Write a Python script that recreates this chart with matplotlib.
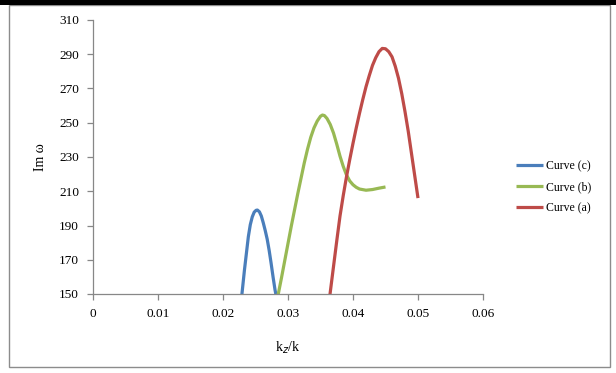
import matplotlib
matplotlib.use("Agg")
import matplotlib.pyplot as plt
from matplotlib.patches import Rectangle

plt.rcParams['font.family'] = ['Liberation Serif', 'DejaVu Serif']

# Curve (c)
x_c = [0.0229, 0.0233, 0.0235, 0.0239, 0.0242, 0.0245, 0.0248, 0.0251, 0.0253,
       0.0256, 0.0259, 0.0262, 0.0265, 0.0268, 0.0271, 0.0274, 0.0277, 0.0280, 0.0282]
y_c = [149.5, 164.0, 170.5, 183.5, 190.5, 195.0, 197.8, 198.9, 199.0,
       198.0, 195.5, 191.5, 187.0, 182.0, 175.5, 168.0, 160.0, 152.5, 148.5]

# Curve (b)
x_b = [0.0284, 0.0290, 0.0295, 0.0300, 0.0305, 0.0310, 0.0315, 0.0320, 0.0325,
       0.0330, 0.0335, 0.0340, 0.0345, 0.0350, 0.0353, 0.0356, 0.0360, 0.0365,
       0.0370, 0.0375, 0.0380, 0.0385, 0.0390, 0.0395, 0.0400, 0.0405, 0.0410,
       0.0420, 0.0430, 0.0440, 0.0450]
y_b = [148.0, 159.5, 169.5, 179.5, 189.5, 199.0, 208.5, 217.5, 226.5,
       234.5, 241.5, 247.0, 251.0, 253.8, 254.5, 254.2, 252.5, 249.0,
       244.0, 237.5, 230.5, 224.5, 219.5, 216.0, 213.8, 212.3, 211.3,
       210.6, 211.0, 211.8, 212.5]

# Curve (a)
x_a = [0.0364, 0.0370, 0.0375, 0.0380, 0.0385, 0.0390, 0.0395, 0.0400, 0.0405,
       0.0410, 0.0415, 0.0420, 0.0425, 0.0430, 0.0435, 0.0440, 0.0445, 0.0450,
       0.0455, 0.0460, 0.0465, 0.0470, 0.0475, 0.0480, 0.0485, 0.0490, 0.0495,
       0.0500]
y_a = [148.0, 166.0, 181.0, 195.5, 207.5, 218.5, 228.5, 238.0, 247.0,
       255.5, 263.5, 271.0, 277.5, 283.5, 288.0, 291.5, 293.4, 293.2,
       291.5, 288.5, 283.0, 276.0, 267.0, 256.5, 245.0, 232.0, 219.0,
       206.0]

x_ticks = [0, 0.01, 0.02, 0.03, 0.04, 0.05, 0.06]
x_tick_labels = ['0', '0.01', '0.02', '0.03', '0.04', '0.05', '0.06']
y_ticks = [150, 170, 190, 210, 230, 250, 270, 290, 310]

fig = plt.figure(figsize=(6.16, 3.73), dpi=100)
ax = fig.add_axes([93 / 616, 1 - 294 / 373, 390 / 616, 274 / 373])

ax.plot(x_c, y_c, color='#4A7EBB', lw=2.3, label='Curve (c)', solid_capstyle='butt')
ax.plot(x_b, y_b, color='#98B954', lw=2.3, label='Curve (b)', solid_capstyle='butt')
ax.plot(x_a, y_a, color='#BE4B48', lw=2.3, label='Curve (a)', solid_capstyle='butt')

ax.set_xlim(0, 0.06)
ax.set_ylim(150, 310)
ax.set_xticks(x_ticks)
ax.set_xticklabels(x_tick_labels)
ax.set_yticks(y_ticks)

for s in ['top', 'right']:
    ax.spines[s].set_visible(False)
for s in ['left', 'bottom']:
    ax.spines[s].set_color('#878787')
    ax.spines[s].set_linewidth(0.9)
ax.tick_params(direction='out', length=4, width=0.9, color='#878787',
               labelsize=9.5, pad=6)

ax.set_xlabel('k$_z$/k', fontsize=10, labelpad=14)
ax.set_ylabel('Im ω', fontsize=10, labelpad=9)

ax.legend(loc='center left', bbox_to_anchor=(505 / 616, 1 - 187 / 373),
          bbox_transform=fig.transFigure, frameon=False, fontsize=8.5,
          handlelength=2.3, labelspacing=0.75, handletextpad=0.3)

# outer frame and top rule
fig.patches.append(Rectangle((9 / 616, 1 - 367 / 373), 601 / 616, 362 / 373,
                             transform=fig.transFigure, fill=False,
                             edgecolor='#8c8c8c', lw=1.0))
fig.patches.append(Rectangle((0, 1 - 5 / 373), 1, 5 / 373,
                             transform=fig.transFigure, facecolor='black',
                             edgecolor='none'))

fig.savefig('out.png', dpi=100)
